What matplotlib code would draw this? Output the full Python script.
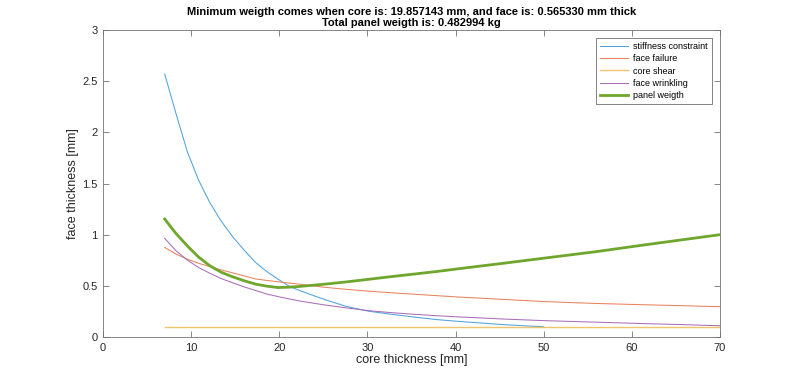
import numpy as np
import matplotlib
matplotlib.use("Agg")
import matplotlib.pyplot as plt

nan = float("nan")

core_thickness = [7.0, 8.29, 9.57, 10.86, 12.14, 13.43, 14.71, 16.0, 17.29, 18.57,
                  19.86, 21.14, 22.43, 25.0, 27.57, 30.14, 32.71, 35.29, 37.86, 40.43,
                  45.57, 50.0, 55.86, 61.0, 66.14, 70.0]

stiffness_constraint = [2.57, 2.18, 1.81, 1.53, 1.31, 1.13, 0.98, 0.85, 0.73, 0.64,
                        0.565, 0.495, 0.45, 0.37, 0.30, 0.252, 0.222, 0.195, 0.17, 0.152,
                        0.12, 0.10, nan, nan, nan, nan]

face_failure = [0.876, 0.81, 0.76, 0.72, 0.687, 0.655, 0.627, 0.597, 0.568, 0.553,
                0.54, 0.527, 0.515, 0.487, 0.466, 0.448, 0.432, 0.418, 0.404, 0.39,
                0.367, 0.346, 0.328, 0.316, 0.305, 0.296]

core_shear = [0.1] * len(core_thickness)

face_wrinkling = [0.964, 0.842, 0.751, 0.678, 0.622, 0.57, 0.53, 0.49, 0.455, 0.42,
                  0.395, 0.372, 0.35, 0.315, 0.285, 0.257, 0.238, 0.222, 0.208, 0.196,
                  0.175, 0.16, 0.145, 0.132, 0.12, 0.11]

panel_weigth = [1.153, 1.01, 0.89, 0.78, 0.695, 0.632, 0.588, 0.55, 0.517, 0.497,
                0.483, 0.487, 0.495, 0.515, 0.538, 0.564, 0.59, 0.615, 0.64, 0.668,
                0.722, 0.77, 0.833, 0.895, 0.955, 1.0]

labels = ["stiffness constraint", "face failure", "core shear", "face wrinkling", "panel weigth"]

plt.rcParams['font.family'] = ['Liberation Sans', 'DejaVu Sans']

fig = plt.figure(figsize=(7.95, 3.79), dpi=100)
ax = fig.add_axes([103/795, 42/379, 617/795, 307/379])

ax.plot(core_thickness, stiffness_constraint, color='#4fa3dc', lw=0.75, label=labels[0])
ax.plot(core_thickness, face_failure, color='#e9835c', lw=0.75, label=labels[1])
ax.plot(core_thickness, core_shear, color='#f0c46c', lw=1.0, label=labels[2])
ax.plot(core_thickness, face_wrinkling, color='#ab6db8', lw=0.75, label=labels[3])
ax.plot(core_thickness, panel_weigth, color='#6fa62c', lw=2.0, label=labels[4])

ax.set_xlim(0, 70)
ax.set_ylim(0, 3)
ax.set_xticks(np.arange(0, 71, 10))
ax.set_yticks([0, 0.5, 1, 1.5, 2, 2.5, 3])
ax.set_yticklabels(["0", "0.5", "1", "1.5", "2", "2.5", "3"])

gray = (0.15, 0.15, 0.15)
for s in ax.spines.values():
    s.set_color((0.45, 0.45, 0.45))
    s.set_linewidth(0.6)
ax.tick_params(direction='in', length=4, width=0.6, color=(0.45, 0.45, 0.45),
               labelsize=8, labelcolor=gray, top=True, right=True, pad=4)

ax.set_xlabel("core thickness [mm]", fontsize=9, color=gray, labelpad=1)
ax.set_ylabel("face thickness [mm]", fontsize=9, color=gray, labelpad=2)
ax.set_title("Minimum weigth comes when core is: 19.857143 mm, and face is: 0.565330 mm thick\n"
             "Total panel weigth is: 0.482994 kg", fontsize=8, fontweight='bold', pad=3,
             linespacing=1.15)

leg = ax.legend(loc='upper right', fontsize=6.5, frameon=True, fancybox=False,
                edgecolor=(0.15, 0.15, 0.15), borderpad=0.45, labelspacing=0.35,
                handlelength=3.1, handletextpad=0.55, borderaxespad=0.9)
leg.get_frame().set_linewidth(0.5)

fig.savefig("out.png", dpi=100)
